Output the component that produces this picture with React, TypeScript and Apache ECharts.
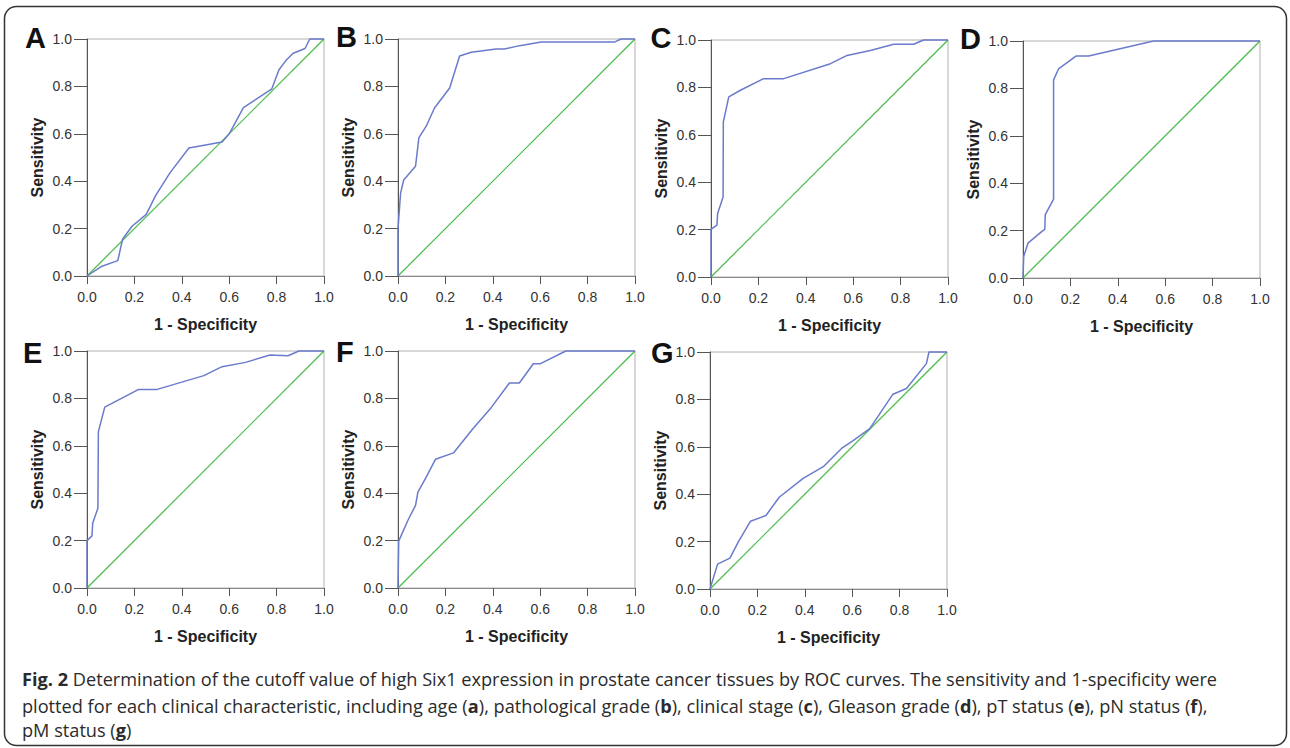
import React, { useEffect, useRef } from "react";
import * as echarts from "echarts";

// ---- data (1 - specificity, sensitivity) ----
const panelLabels = ["A", "B", "C", "D", "E", "F", "G"];

const fprA = [0, 0.06, 0.13, 0.15, 0.19, 0.25, 0.29, 0.35, 0.43, 0.57, 0.6, 0.66, 0.78, 0.81, 0.84, 0.87, 0.92, 0.94, 1.0];
const tprA = [0, 0.04, 0.065, 0.155, 0.21, 0.26, 0.34, 0.435, 0.54, 0.565, 0.6, 0.71, 0.79, 0.87, 0.91, 0.94, 0.96, 1.0, 1.0];

const fprB = [0, 0, 0.011, 0.024, 0.074, 0.088, 0.119, 0.154, 0.218, 0.26, 0.309, 0.414, 0.449, 0.513, 0.604, 0.913, 0.941, 1];
const tprB = [0, 0.2, 0.35, 0.405, 0.463, 0.583, 0.632, 0.709, 0.793, 0.928, 0.944, 0.958, 0.958, 0.972, 0.987, 0.987, 1, 1];

const fprC = [0, 0, 0.025, 0.028, 0.051, 0.052, 0.075, 0.124, 0.222, 0.307, 0.504, 0.574, 0.672, 0.771, 0.855, 0.897, 1];
const tprC = [0, 0.201, 0.219, 0.268, 0.338, 0.654, 0.76, 0.788, 0.837, 0.837, 0.9, 0.935, 0.956, 0.982, 0.982, 1, 1];

const fprD = [0, 0.003, 0.021, 0.08, 0.092, 0.094, 0.129, 0.129, 0.15, 0.225, 0.277, 0.551, 1];
const tprD = [0, 0.091, 0.147, 0.197, 0.205, 0.267, 0.333, 0.836, 0.882, 0.937, 0.937, 1, 1];

const fprE = [0, 0, 0.021, 0.024, 0.046, 0.048, 0.075, 0.218, 0.296, 0.493, 0.57, 0.669, 0.772, 0.848, 0.894, 1];
const tprE = [0, 0.2, 0.22, 0.273, 0.337, 0.66, 0.763, 0.838, 0.838, 0.896, 0.934, 0.952, 0.983, 0.98, 1, 1];

const fprF = [0, 0.003, 0.042, 0.074, 0.084, 0.119, 0.158, 0.234, 0.316, 0.393, 0.47, 0.512, 0.571, 0.599, 0.708, 1];
const tprF = [0, 0.198, 0.286, 0.349, 0.405, 0.468, 0.543, 0.57, 0.672, 0.761, 0.865, 0.865, 0.946, 0.946, 1, 1];

const fprG = [0, 0.032, 0.084, 0.119, 0.171, 0.236, 0.292, 0.393, 0.478, 0.555, 0.604, 0.674, 0.772, 0.829, 0.913, 0.924, 1];
const tprG = [0, 0.105, 0.13, 0.198, 0.286, 0.31, 0.387, 0.467, 0.516, 0.593, 0.626, 0.677, 0.822, 0.846, 0.951, 1, 1];

const diagX = [0, 1];
const diagY = [0, 1];

const fprList = [fprA, fprB, fprC, fprD, fprE, fprF, fprG];
const tprList = [tprA, tprB, tprC, tprD, tprE, tprF, tprG];

const xAxisName = "1 - Specificity";
const yAxisName = "Sensitivity";

const captionLines: [string, boolean][][] = [
  [
    ["Fig. 2", true],
    [" Determination of the cutoff value of high Six1 expression in prostate cancer tissues by ROC curves. The sensitivity and 1-specificity were", false],
  ],
  [
    ["plotted for each clinical characteristic, including age (", false],
    ["a", true],
    ["), pathological grade (", false],
    ["b", true],
    ["), clinical stage (", false],
    ["c", true],
    ["), Gleason grade (", false],
    ["d", true],
    ["), pT status (", false],
    ["e", true],
    ["), pN status (", false],
    ["f", true],
    ["),", false],
  ],
  [
    ["pM status (", false],
    ["g", true],
    [")", false],
  ],
];

// ---- layout ----
const gridPos = [
  { left: 87, top: 39 },
  { left: 398, top: 39 },
  { left: 711, top: 40 },
  { left: 1023, top: 41 },
  { left: 87, top: 351 },
  { left: 398, top: 351 },
  { left: 710, top: 352 },
];
const labelPos = [
  { x: 25, y: 37.5 },
  { x: 336, y: 37 },
  { x: 650.5, y: 38 },
  { x: 960, y: 38.5 },
  { x: 23, y: 352.5 },
  { x: 336, y: 352 },
  { x: 651, y: 352.5 },
];
const PW = 237;
const PH = 237;

const capFamily = "'Open Sans'";
const capSize = 18.5;

function measure(parts: [string, boolean][]) {
  const c = document.createElement("canvas").getContext("2d");
  if (!c) return 1195;
  let w = 0;
  for (const [t, b] of parts) {
    c.font = `${b ? "bold " : ""}${capSize}px ${capFamily}`;
    w += c.measureText(t).width;
  }
  return w;
}

export default function App() {
  const ref = useRef<HTMLDivElement>(null);
  useEffect(() => {
    if (!ref.current) return;
    const chart = echarts.init(ref.current, undefined, { renderer: "svg" });
    const axisCommon = {
      type: "value" as const,
      min: 0,
      max: 1,
      interval: 0.2,
      splitLine: { show: false },
      axisLine: { show: true, onZero: false, lineStyle: { color: "#555", width: 1 } },
    };
    const labelStyle = {
      fontFamily: "'Liberation Sans', Arial, sans-serif",
      fontSize: 14,
      color: "#333",
      formatter: (v: number) => v.toFixed(1),
    };
    const nameStyle = {
      fontFamily: "'Liberation Sans', Arial, sans-serif",
      fontSize: 16,
      fontWeight: "bold" as const,
      color: "#222",
    };
    const grids: any[] = [];
    const xAxes: any[] = [];
    const yAxes: any[] = [];
    const series: any[] = [];
    gridPos.forEach((g, i) => {
      grids.push({
        left: g.left,
        top: g.top,
        width: PW,
        height: PH,
        show: true,
        borderColor: "#b0b0b0",
        borderWidth: 1,
        backgroundColor: "transparent",
      });
      xAxes.push({
        ...axisCommon,
        gridIndex: i,
        position: "bottom",
        axisTick: { show: true, length: 8, lineStyle: { color: "#555", width: 1 } },
        axisLabel: { ...labelStyle, margin: 14 },
        name: xAxisName,
        nameLocation: "middle",
        nameGap: 40,
        nameTextStyle: nameStyle,
      });
      yAxes.push({
        ...axisCommon,
        gridIndex: i,
        position: "left",
        axisTick: { show: true, length: 13, lineStyle: { color: "#555", width: 1 } },
        axisLabel: { ...labelStyle, margin: 15 },
        name: yAxisName,
        nameLocation: "middle",
        nameGap: 42,
        nameTextStyle: nameStyle,
      });
    });
    // top frame lines
    gridPos.forEach((g, i) => {
      xAxes.push({
        type: "value",
        min: 0,
        max: 1,
        gridIndex: i,
        position: "top",
        axisLine: { show: true, lineStyle: { color: "#8a8a8a", width: 1 } },
        axisTick: { show: false },
        axisLabel: { show: false },
        splitLine: { show: false },
      });
    });
    gridPos.forEach((g, i) => {
      series.push({
        type: "line",
        xAxisIndex: i,
        yAxisIndex: i,
        data: diagX.map((x, k) => [x, diagY[k]]),
        showSymbol: false,
        symbol: "none",
        clip: false,
        lineStyle: { color: "#44bb44", width: 1.2 },
        z: 2,
      });
      series.push({
        type: "line",
        xAxisIndex: i,
        yAxisIndex: i,
        data: fprList[i].map((x, k) => [x, tprList[i][k]]),
        showSymbol: false,
        symbol: "none",
        clip: false,
        lineStyle: { color: "#6a7bcc", width: 1.5 },
        z: 3,
      });
    });

    const targetW = 1195;
    const scale = targetW / measure(captionLines[0]);
    const capY = [678, 705, 729];
    const richStyles = {
      b: { fontFamily: capFamily, fontSize: capSize, fontWeight: "bold", fill: "#2b2b2b" },
      n: { fontFamily: capFamily, fontSize: capSize, fontWeight: "normal", fill: "#2b2b2b" },
    };
    const graphic: any[] = [
      {
        type: "rect",
        shape: { x: 4.5, y: 6.5, width: 1282, height: 739, r: 12 },
        style: { fill: "none", stroke: "#333", lineWidth: 1.5 },
        silent: true,
      },
    ];
    panelLabels.forEach((lab, i) => {
      graphic.push({
        type: "text",
        x: labelPos[i].x,
        y: labelPos[i].y,
        style: {
          text: lab,
          fontFamily: "'Liberation Sans', Arial, sans-serif",
          fontSize: 29,
          fontWeight: "bold",
          fill: "#111",
          align: "left",
          verticalAlign: "middle",
        },
      });
    });
    captionLines.forEach((parts, li) => {
      const text = parts
        .map(([t, b]) => `{${b ? "b" : "n"}|${t}}`)
        .join("");
      graphic.push({
        type: "text",
        x: 22,
        y: capY[li],
        scaleX: scale,
        style: {
          text,
          rich: richStyles,
          fontFamily: capFamily,
          fontSize: capSize,
          fill: "#2b2b2b",
          align: "left",
          verticalAlign: "middle",
        },
      });
    });

    chart.setOption({
      animation: false,
      backgroundColor: "#fff",
      grid: grids,
      xAxis: xAxes,
      yAxis: yAxes,
      series,
      graphic,
    });
    return () => chart.dispose();
  }, []);
  return (
    <div
      ref={ref}
      style={{ position: "absolute", left: 0, top: 0, width: 1290, height: 748 }}
    />
  );
}
